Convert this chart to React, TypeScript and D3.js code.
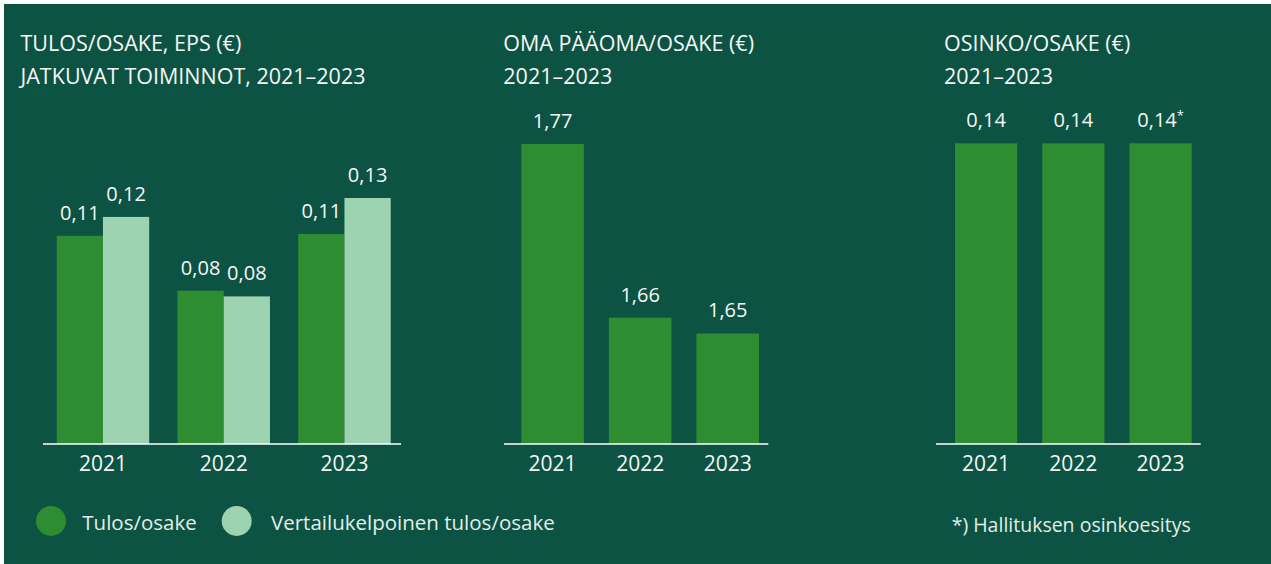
import React from 'react';
import * as d3 from 'd3';

const years = ['2021', '2022', '2023'];
const seriesNames = ['Tulos/osake', 'Vertailukelpoinen tulos/osake'];
const epsValues = [0.11, 0.081, 0.111];
const epsComparable = [0.12, 0.078, 0.13];
const equityValues = [1.77, 1.66, 1.65];
const dividendValues = [0.14, 0.14, 0.14];
const dividendNotes = ['', '', '*'];

const titles = [
  ['TULOS/OSAKE, EPS (€)', 'JATKUVAT TOIMINNOT, 2021–2023'],
  ['OMA PÄÄOMA/OSAKE (€)', '2021–2023'],
  ['OSINKO/OSAKE (€)', '2021–2023'],
];
const footnote = '*) Hallituksen osinkoesitys';

const W = 1271;
const H = 564;
const BASE = 444;
const BG = '#0d5343';
const DARK = '#2e8c31';
const LIGHT = '#9dd3b1';
const TXT = '#f5f7f5';
const FONT = '"Open Sans", sans-serif';

const fmt = (v: number) => d3.format('.2f')(v).replace('.', ',');

const ValueLabel = ({ x, y, v, note = '' }: { x: number; y: number; v: number; note?: string }) => (
  <text x={x} y={y - 16} textAnchor="middle" fontSize={20} fill={TXT}>
    {fmt(v)}
    {note && (
      <tspan fontSize={13} dy={-7}>
        {note}
      </tspan>
    )}
  </text>
);

const Axis = ({ x1, x2, band }: { x1: number; x2: number; band: d3.ScaleBand<string> }) => (
  <g>
    <line x1={x1} x2={x2} y1={BASE} y2={BASE} stroke="#ffffff" strokeWidth={1.5} />
    {years.map((yr) => (
      <text key={yr} x={band(yr)! + band.bandwidth() / 2} y={BASE + 27} textAnchor="middle" fontSize={21} fill={TXT}>
        {yr}
      </text>
    ))}
  </g>
);

const Title = ({ x, lines }: { x: number; lines: string[] }) => (
  <g fontSize={21.5} fill={TXT}>
    {lines.map((l, i) => (
      <text key={i} x={x} y={51 + i * 33}>
        {l}
      </text>
    ))}
  </g>
);

export default function App() {
  // chart 1: grouped EPS bars
  const x0 = d3.scaleBand(years, [56.7, 390.7]).paddingInner(0.234);
  const x1 = d3.scaleBand(['eps', 'cmp'], [0, x0.bandwidth()]);
  const y1 = d3.scaleLinear([0, 0.13], [BASE, 198]);

  // chart 2: equity per share (axis does not start at zero)
  const xb2 = d3.scaleBand(years, [521.3, 759]).paddingInner(0.285);
  const y2 = d3.scaleLinear([1.58, 1.77], [BASE, 144]);

  // chart 3: dividend per share
  const xb3 = d3.scaleBand(years, [955, 1191.7]).paddingInner(0.287);
  const y3 = d3.scaleLinear([0, 0.14], [BASE, 143.3]);

  const legendX = [51, 236.7];
  const legendTextX = [82.3, 271];

  return (
    <svg
      width={W}
      height={H}
      style={{ position: 'absolute', left: 0, top: 0, display: 'block' }}
      fontFamily={FONT}
    >
      <rect x={0} y={0} width={W} height={H} fill="#ffffff" />
      <rect x={4} y={4} width={W - 4} height={H - 4} fill={BG} />

      <Title x={20.5} lines={titles[0]} />
      <Title x={503.3} lines={titles[1]} />
      <Title x={944} lines={titles[2]} />

      {/* chart 1 */}
      {years.map((yr, i) => {
        const gx = x0(yr)!;
        const pairs = [
          { k: 'eps', v: epsValues[i], c: DARK },
          { k: 'cmp', v: epsComparable[i], c: LIGHT },
        ];
        return (
          <g key={yr}>
            {pairs.map((p) => (
              <rect key={p.k} x={gx + x1(p.k)!} y={y1(p.v)} width={x1.bandwidth()} height={BASE - y1(p.v)} fill={p.c} />
            ))}
            {pairs.map((p) => (
              <ValueLabel key={p.k} x={gx + x1(p.k)! + x1.bandwidth() / 2} y={y1(p.v)} v={p.v} />
            ))}
          </g>
        );
      })}
      <Axis x1={43} x2={401} band={x0} />

      {/* chart 2 */}
      {years.map((yr, i) => (
        <g key={yr}>
          <rect x={xb2(yr)!} y={y2(equityValues[i])} width={xb2.bandwidth()} height={BASE - y2(equityValues[i])} fill={DARK} />
          <ValueLabel x={xb2(yr)! + xb2.bandwidth() / 2} y={y2(equityValues[i])} v={equityValues[i]} />
        </g>
      ))}
      <Axis x1={504} x2={768.3} band={xb2} />

      {/* chart 3 */}
      {years.map((yr, i) => (
        <g key={yr}>
          <rect x={xb3(yr)!} y={y3(dividendValues[i])} width={xb3.bandwidth()} height={BASE - y3(dividendValues[i])} fill={DARK} />
          <ValueLabel x={xb3(yr)! + xb3.bandwidth() / 2} y={y3(dividendValues[i])} v={dividendValues[i]} note={dividendNotes[i]} />
        </g>
      ))}
      <Axis x1={936} x2={1200.7} band={xb3} />

      {/* legend */}
      {seriesNames.map((name, i) => (
        <g key={name}>
          <circle cx={legendX[i]} cy={521} r={15} fill={i === 0 ? DARK : LIGHT} />
          <text x={legendTextX[i]} y={529.5} fontSize={20.5} fill="#e2eee8">
            {name}
          </text>
        </g>
      ))}

      <text x={951.7} y={532.3} fontSize={19.5} fill="#e2eee8">
        {footnote}
      </text>
    </svg>
  );
}
